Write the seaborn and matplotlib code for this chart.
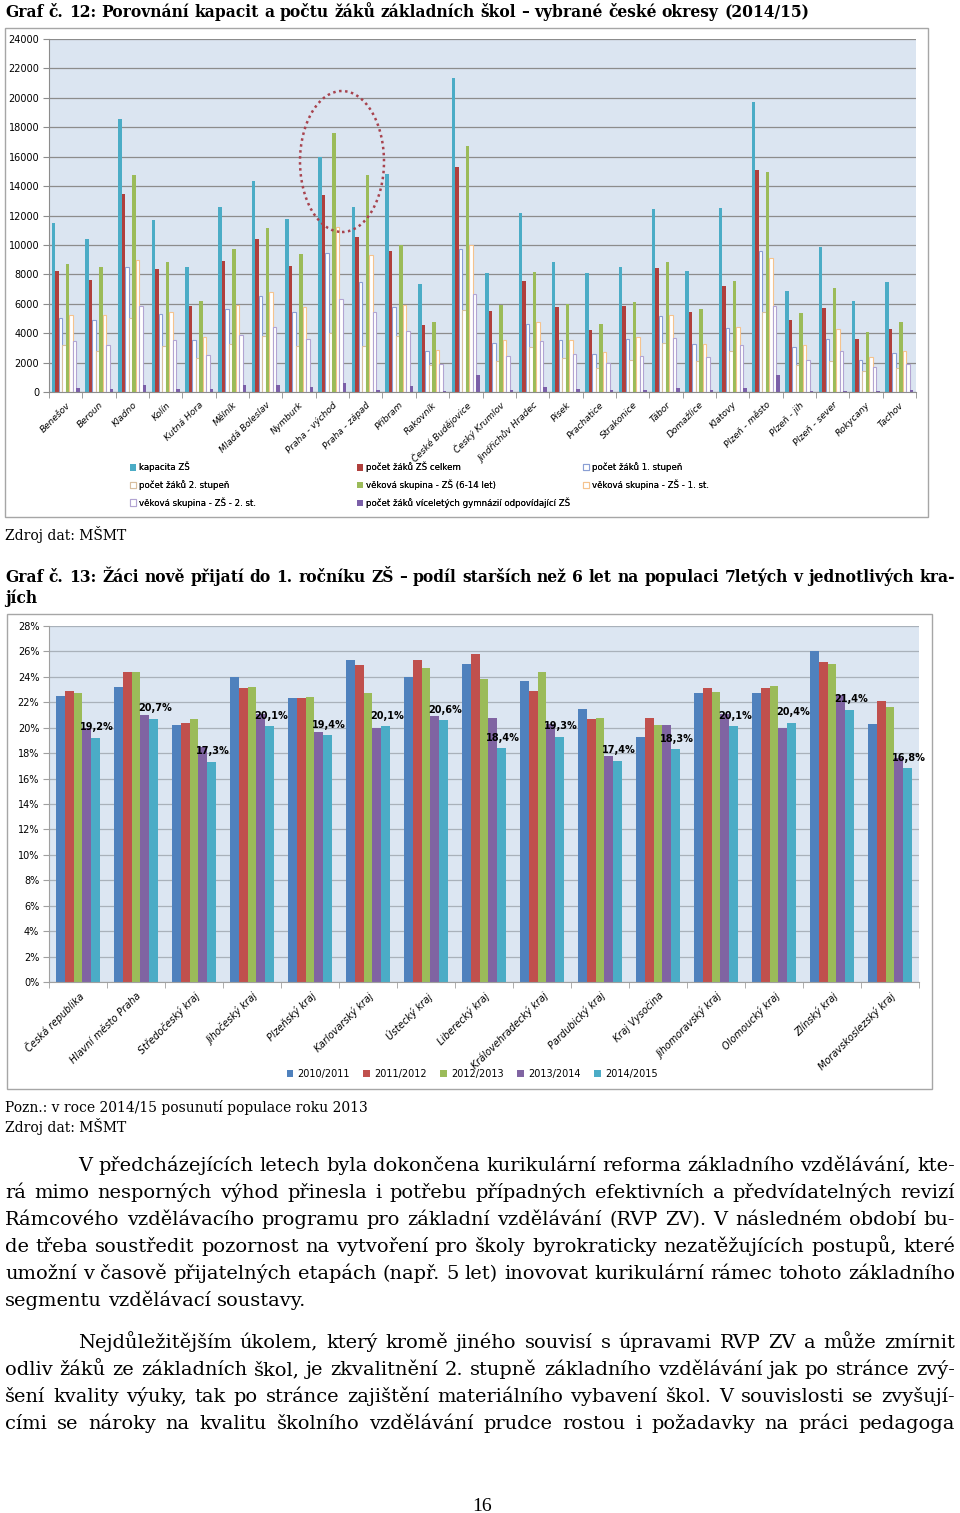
import matplotlib
matplotlib.use("Agg")
import pandas as pd
import seaborn as sns
import matplotlib.pyplot as plt
from matplotlib.patches import Ellipse, Rectangle

W, H = 960, 1513

# Graf 12 - okresy
okresy = ["Benešov", "Beroun", "Kladno", "Kolín", "Kutná Hora", "Mělník", "Mladá Boleslav",
          "Nymburk", "Praha - východ", "Praha - západ", "Příbram", "Rakovník",
          "České Budějovice", "Český Krumlov", "Jindřichův Hradec", "Písek", "Prachatice",
          "Strakonice", "Tábor", "Domažlice", "Klatovy", "Plzeň - město", "Plzeň - jih",
          "Plzeň - sever", "Rokycany", "Tachov"]
kapacita = [11500, 10400, 18540, 11700, 8490, 12610, 14350, 11770, 15960, 12610, 14810, 7360,
            21370, 8080, 12160, 8870, 8080, 8470, 12450, 8240, 12500, 19700, 6840, 9830, 6160, 7470]
celkem = [8200, 7600, 13470, 8380, 5820, 8920, 10390, 8540, 13400, 10570, 9580, 4530,
          15330, 5480, 7560, 5750, 4230, 5860, 8420, 5410, 7180, 15060, 4910, 5710, 3600, 4280]
stupen1 = [5030, 4900, 8490, 5300, 3550, 5660, 6500, 5430, 9440, 7470, 5770, 2760,
           9740, 3330, 4620, 3510, 2580, 3620, 5140, 3260, 4350, 9620, 3060, 3620, 2150, 2650]
stupen2 = [3170, 2760, 5030, 3100, 2300, 3260, 3780, 3150, 4010, 3100, 3780, 1810,
           5590, 2130, 3030, 2310, 1630, 2200, 3330, 2130, 2810, 5430, 1860, 2130, 1400, 1630]
vek_6_14 = [8720, 8470, 14760, 8870, 6160, 9710, 11180, 9370, 17640, 14760, 10010, 4750,
            16730, 5930, 8130, 6000, 4620, 6090, 8870, 5660, 7580, 14970, 5370, 7060, 4080, 4730]
vek_1st = [5250, 5250, 8990, 5430, 3710, 5890, 6790, 5750, 11250, 9330, 5890, 2830,
           10010, 3550, 4730, 3510, 2690, 3740, 5250, 3260, 4410, 9100, 3210, 4300, 2380, 2760]
vek_2st = [3490, 3210, 5820, 3550, 2540, 3850, 4410, 3620, 6320, 5430, 4170, 1920,
           6660, 2420, 3440, 2580, 1970, 2470, 3670, 2400, 3170, 5860, 2150, 2810, 1700, 1920]
gymnazia = [270, 230, 450, 230, 230, 500, 450, 360, 610, 110, 430, 90,
            1130, 160, 320, 200, 160, 160, 270, 160, 270, 1130, 90, 70, 90, 160]
ukazatele = ["kapacita ZŠ", "počet žáků ZŠ celkem", "počet žáků 1. stupeň",
             "počet žáků 2. stupeň", "věková skupina - ZŠ (6-14 let)",
             "věková skupina - ZŠ - 1. st.", "věková skupina - ZŠ - 2. st.",
             "počet žáků víceletých gymnázií odpovídající ZŠ"]

# Graf 13 - kraje
kraje = ["Česká republika", "Hlavní město Praha", "Středočeský kraj", "Jihočeský kraj",
         "Plzeňský kraj", "Karlovarský kraj", "Ústecký kraj", "Liberecký kraj",
         "Královehradecký kraj", "Pardubický kraj", "Kraj Vysočina", "Jihomoravský kraj",
         "Olomoucký kraj", "Zlínský kraj", "Moravskoslezský kraj"]
r2010 = [22.5, 23.2, 20.2, 24.0, 22.3, 25.3, 24.0, 25.05, 23.7, 21.5, 19.25, 22.7, 22.7, 26.0, 20.3]
r2011 = [22.9, 24.4, 20.35, 23.1, 22.3, 24.9, 25.3, 25.8, 22.9, 20.7, 20.75, 23.1, 23.1, 25.2, 22.1]
r2012 = [22.75, 24.4, 20.65, 23.2, 22.45, 22.75, 24.7, 23.85, 24.4, 20.75, 20.2, 22.8, 23.25, 25.0, 21.6]
r2013 = [19.95, 21.0, 18.5, 21.1, 19.7, 19.95, 20.9, 20.75, 20.3, 17.8, 20.2, 21.1, 20.0, 22.55, 17.6]
r2014 = [19.2, 20.7, 17.3, 20.1, 19.4, 20.1, 20.6, 18.4, 19.3, 17.4, 18.3, 20.1, 20.4, 21.4, 16.8]
roky = ["2010/2011", "2011/2012", "2012/2013", "2013/2014", "2014/2015"]

plt.rcParams["font.family"] = ["DejaVu Sans"]
fig = plt.figure(figsize=(W / 100, H / 100), dpi=100)
renderer = fig.canvas.get_renderer()


def fy(y):
    return 1 - y / H


# ---- Graf 12 ----
df1 = pd.DataFrame({"okres": okresy, ukazatele[0]: kapacita, ukazatele[1]: celkem,
                    ukazatele[2]: stupen1, ukazatele[3]: stupen2, ukazatele[4]: vek_6_14,
                    ukazatele[5]: vek_1st, ukazatele[6]: vek_2st, ukazatele[7]: gymnazia})
df1 = df1.melt(id_vars="okres", var_name="ukazatel", value_name="pocet")
barvy1 = ["#4bacc6", "#b03f3c", "#8a9fd4", "#d8bfa0", "#9bbb59", "#f5c38e", "#b2a4d2", "#7b5fa8"]
duté = [False, False, True, True, False, True, True, False]

ax1 = fig.add_axes([49 / W, fy(392), 867 / W, 353 / H])
sns.barplot(data=df1, x="okres", y="pocet", hue="ukazatel", hue_order=ukazatele, order=okresy,
            palette=barvy1, saturation=1, width=0.84, legend=False, ax=ax1)
for cont, col, hol in zip(ax1.containers, barvy1, duté):
    for p in cont.patches:
        if hol:
            p.set_facecolor("white")
            p.set_edgecolor(col)
            p.set_linewidth(0.8)
        else:
            p.set_edgecolor("none")
ax1.set_facecolor("#dbe5f1")
ax1.set_ylim(0, 24000)
ax1.set_xlim(-0.5, len(okresy) - 0.5)
ax1.set_yticks(range(0, 24001, 2000))
ax1.set_yticklabels([str(v) for v in range(0, 24001, 2000)])
ax1.grid(axis="y", color="#8c8c8c", linewidth=0.9)
ax1.set_axisbelow(True)
ax1.set_xlabel("")
ax1.set_ylabel("")
for s in ["top", "right"]:
    ax1.spines[s].set_visible(False)
for s in ["left", "bottom"]:
    ax1.spines[s].set_color("#8c8c8c")
ax1.tick_params(axis="y", labelsize=7, length=4, color="#8c8c8c", pad=3)
ax1.set_xticks(range(len(okresy)))
ax1.set_xticklabels(okresy, rotation=45, ha="right", rotation_mode="anchor", fontsize=6.5,
                    style="italic")
ax1.set_xticks([i - 0.5 for i in range(len(okresy) + 1)], minor=True)
ax1.tick_params(axis="x", which="major", length=0, pad=6)
ax1.tick_params(axis="x", which="minor", length=4, color="#8c8c8c")

# legenda po sloupcich
poradi = [[0, 3, 6], [1, 4, 7], [2, 5]]
for xs, idx in zip([130, 357, 583], poradi):
    leg = fig.legend([ax1.containers[i].patches[0] for i in idx], [ukazatele[i] for i in idx],
                     loc="upper left", bbox_to_anchor=(xs / W, fy(462)), frameon=False,
                     fontsize=6.2, handlelength=0.7, handleheight=0.7, handletextpad=0.4,
                     labelspacing=0.85, borderpad=0, borderaxespad=0)
    fig.add_artist(leg)

fig.add_artist(Ellipse((342 / W, fy(161.5)), 84 / W, 141 / H, transform=fig.transFigure,
                       fill=False, edgecolor="#a8434e", linewidth=1.8, linestyle=(0, (1, 1.4))))
fig.add_artist(Rectangle((5 / W, fy(517)), 923 / W, 489 / H, transform=fig.transFigure,
                         fill=False, edgecolor="#a6a6a6", linewidth=1))

# ---- Graf 13 ----
df2 = pd.DataFrame({"kraj": kraje, roky[0]: r2010, roky[1]: r2011, roky[2]: r2012,
                    roky[3]: r2013, roky[4]: r2014})
df2 = df2.melt(id_vars="kraj", var_name="rok", value_name="podil")
barvy2 = ["#4f81bd", "#c0504d", "#9bbb59", "#8064a2", "#4bacc6"]

ax2 = fig.add_axes([49 / W, fy(982), 870 / W, 356 / H])
sns.barplot(data=df2, x="kraj", y="podil", hue="rok", hue_order=roky, order=kraje,
            palette=barvy2, saturation=1, width=0.76, legend=False, ax=ax2)
for cont in ax2.containers:
    for p in cont.patches:
        p.set_edgecolor("none")
ax2.set_facecolor("#dce6f2")
ax2.set_ylim(0, 28)
ax2.set_xlim(-0.5, len(kraje) - 0.5)
ax2.set_yticks(range(0, 29, 2))
ax2.set_yticklabels([f"{v}%" for v in range(0, 29, 2)])
ax2.grid(axis="y", color="#a9b1ba", linewidth=0.9)
ax2.set_axisbelow(True)
ax2.set_xlabel("")
ax2.set_ylabel("")
for s in ["top", "right"]:
    ax2.spines[s].set_visible(False)
for s in ["left", "bottom"]:
    ax2.spines[s].set_color("#a0a0a0")
ax2.tick_params(axis="y", labelsize=7, length=4, color="#a0a0a0", pad=3)
ax2.set_xticks(range(len(kraje)))
ax2.set_xticklabels(kraje, rotation=45, ha="right", rotation_mode="anchor", fontsize=7,
                    style="italic")
ax2.set_xticks([i - 0.5 for i in range(len(kraje) + 1)], minor=True)
ax2.tick_params(axis="x", which="major", length=0, pad=6)
ax2.tick_params(axis="x", which="minor", length=4, color="#a0a0a0")
for p, v in zip(ax2.containers[4].patches, r2014):
    ax2.annotate(f"{v:.1f}".replace(".", ",") + "%", (p.get_x() + p.get_width() / 2, v),
                 xytext=(1, 4), textcoords="offset points", ha="center", va="bottom",
                 fontsize=7, fontweight="bold")

fig.legend(list(ax2.containers), roky, loc="center", bbox_to_anchor=(472 / W, fy(1074)),
           ncol=5, frameon=False, fontsize=7, handlelength=0.7, handleheight=0.7,
           handletextpad=0.4, columnspacing=1.4, borderpad=0, borderaxespad=0)
fig.add_artist(Rectangle((7 / W, fy(1089)), 925 / W, 475 / H, transform=fig.transFigure,
                         fill=False, edgecolor="#a6a6a6", linewidth=1))


# ---- texty stranky ----
def sirka(s, size, weight="normal", family="DejaVu Serif"):
    t = fig.text(0, 0, s, fontsize=size, fontweight=weight, family=family)
    w = t.get_window_extent(renderer).width
    t.remove()
    return w


def radek(y, line, x0, x1, size, weight="normal", zarovnat=True):
    words = line.split(" ")
    arts = [fig.text(0, fy(y), w, fontsize=size, fontweight=weight, family="DejaVu Serif",
                     va="baseline", ha="left") for w in words]
    widths = [a.get_window_extent(renderer).width for a in arts]
    if zarovnat and len(words) > 1:
        gap = (x1 - x0 - sum(widths)) / (len(words) - 1)
    else:
        gap = sirka("a a", size, weight) - sirka("aa", size, weight)
    x = x0
    for a, w in zip(arts, widths):
        a.set_x(x / W)
        x += w + gap


titul1 = "Graf č. 12: Porovnání kapacit a počtu žáků základních škol – vybrané české okresy (2014/15)"
titul2 = ["Graf č. 13: Žáci nově přijatí do 1. ročníku ZŠ – podíl starších než 6 let na populaci 7letých v jednotlivých kra-",
          "jích"]
p1 = ["V předcházejících letech byla dokončena kurikulární reforma základního vzdělávání, kte-",
      "rá mimo nesporných výhod přinesla i potřebu případných efektivních a předvídatelných revizí",
      "Rámcového vzdělávacího programu pro základní vzdělávání (RVP ZV). V následném období bu-",
      "de třeba soustředit pozornost na vytvoření pro školy byrokraticky nezatěžujících postupů, které",
      "umožní v časově přijatelných etapách (např. 5 let) inovovat kurikulární rámec tohoto základního",
      "segmentu vzdělávací soustavy."]
p2 = ["Nejdůležitějším úkolem, který kromě jiného souvisí s úpravami RVP ZV a může zmírnit",
      "odliv žáků ze základních škol, je zkvalitnění 2. stupně základního vzdělávání jak po stránce zvý-",
      "šení kvality výuky, tak po stránce zajištění materiálního vybavení škol. V souvislosti se zvyšují-",
      "cími se nároky na kvalitu školního vzdělávání prudce rostou i požadavky na práci pedagoga"]

ts = min(12 * 803 / sirka(titul1, 12, "bold"), 12 * 945 / sirka(titul2[0], 12, "bold"))
radek(17, titul1, 5, 808, ts, "bold", zarovnat=False)
radek(582, titul2[0], 5, 955, ts, "bold")
radek(603, titul2[1], 5, 955, ts, "bold", zarovnat=False)

fig.text(5 / W, fy(540), "Zdroj dat: MŠMT", fontsize=10, family="DejaVu Serif", va="baseline")
fig.text(5 / W, fy(1112), "Pozn.: v roce 2014/15 posunutí populace roku 2013", fontsize=10,
         family="DejaVu Serif", va="baseline")
fig.text(5 / W, fy(1132), "Zdroj dat: MŠMT", fontsize=10, family="DejaVu Serif", va="baseline")

plne = [(p1[0], 877), (p1[1], 950), (p1[2], 950), (p1[3], 950), (p1[4], 950),
        (p2[0], 877), (p2[1], 950), (p2[2], 950), (p2[3], 950)]
bs = min(12 * w / sirka(s, 12) for s, w in plne) * 0.995
for i, line in enumerate(p1):
    x0 = 78 if i == 0 else 5
    radek(1171 + 27 * i, line, x0, 955, bs, zarovnat=(i < len(p1) - 1))
for i, line in enumerate(p2):
    x0 = 78 if i == 0 else 5
    radek(1348 + 27 * i, line, x0, 955, bs)

fig.text(482 / W, fy(1511), "16", fontsize=14, family="Liberation Serif", ha="center",
         va="baseline")

fig.savefig("out.png", dpi=100)
